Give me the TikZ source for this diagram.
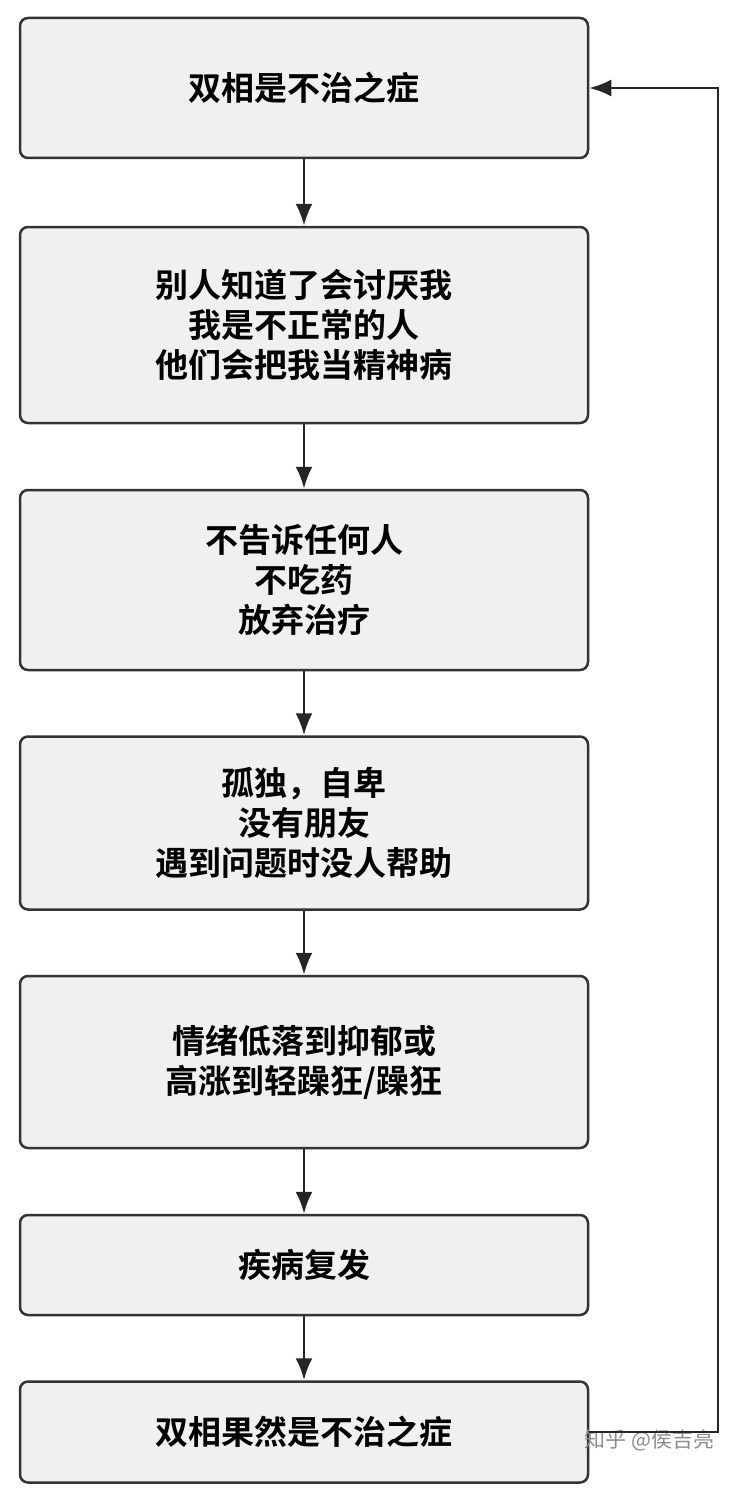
\documentclass[tikz,border=0pt]{standalone}
\usepackage{fontspec}
\newfontfamily\cjk{Noto Sans CJK SC}
\newfontfamily\cjkbold{Noto Sans CJK SC Bold}
\usetikzlibrary{arrows.meta}

\tikzset{
  box/.style={draw=black!80, line width=2.5pt, fill=black!6, rounded corners=8pt,
    minimum width=568pt, align=center, font=\cjkbold\fontsize{33}{40}\selectfont},
  flow/.style={draw=black!85, line width=2.8pt, -{Latex[length=22pt,width=17pt]}}
}

\begin{document}
\begin{tikzpicture}[x=1pt,y=1pt]
\useasboundingbox (0,0) rectangle (734,-1498);
\node[box, minimum height=140pt] (sick)    at (304,-88)   {双相是不治之症};
\node[box, minimum height=196pt] (shame)   at (304,-325)  {别人知道了会讨厌我\\我是不正常的人\\他们会把我当精神病};
\node[box, minimum height=180pt] (hide)    at (304,-580)  {不告诉任何人\\不吃药\\放弃治疗};
\node[box, minimum height=173pt] (alone)   at (304,-823)  {孤独，自卑\\没有朋友\\遇到问题时没人帮助};
\node[box, minimum height=172pt] (mood)    at (304,-1062) {情绪低落到抑郁或\\高涨到轻躁狂/躁狂};
\node[box, minimum height=100pt] (relapse) at (304,-1265) {疾病复发};
\node[box, minimum height=101pt] (proof)   at (304,-1432) {双相果然是不治之症};
\coordinate (loopbot) at (718,-1432);
\coordinate (looptop) at (718,-88);
\node[text=black!45, font=\cjk\fontsize{21}{24}\selectfont, anchor=east] (mark) at (718,-1440) {知乎 @侯吉亮};
% main chain
\foreach \a/\b in {sick/shame, shame/hide, hide/alone, alone/mood, mood/relapse, relapse/proof}
  \draw[flow] (\a) -- (\b);
% feedback
\draw[flow] (proof.east) -- (loopbot) -- (looptop) -- (sick.east);
\end{tikzpicture}
\end{document}
